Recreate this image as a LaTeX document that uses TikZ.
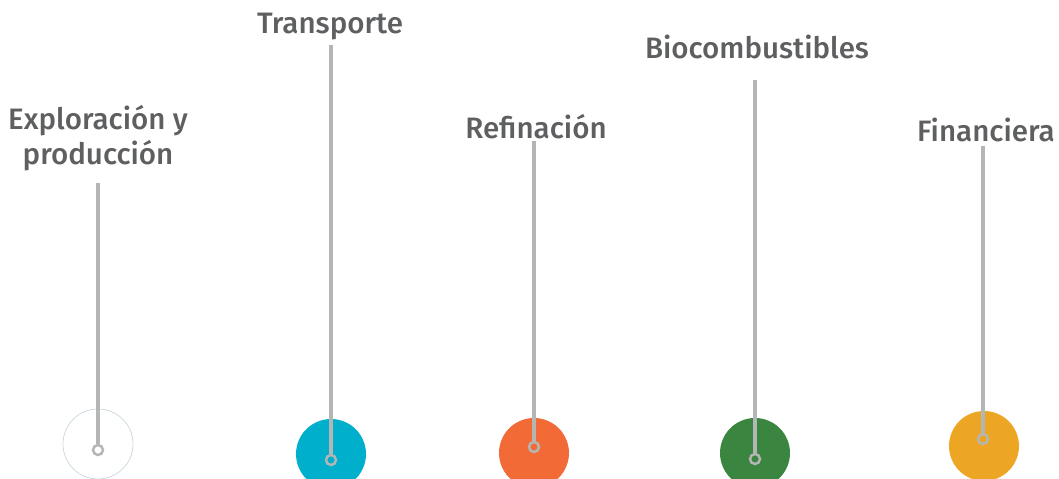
\documentclass[tikz,border=0pt]{standalone}
\usepackage{fontspec}
\setmainfont{Fira Sans}[UprightFont=* Medium]
\usetikzlibrary{positioning}
\definecolor{labelgray}{HTML}{5E5F61}
\definecolor{stemgray}{HTML}{B4B5B5}
\definecolor{rimgray}{HTML}{C9D6DE}
\definecolor{cyan}{HTML}{00AFCB}
\definecolor{orange}{HTML}{F26B37}
\definecolor{green}{HTML}{3A853F}
\definecolor{amber}{HTML}{EDA524}

\begin{document}
\begin{tikzpicture}[x=0.02cm,y=-0.02cm,
  label/.style={text=labelgray,font=\fontsize{16.8}{19.5}\selectfont,align=center,inner sep=0pt},
  disc/.style={circle,minimum size=1.4cm,inner sep=0pt},
  ring/.style={circle,draw=stemgray,line width=1.4pt,minimum size=0.2cm,inner sep=0pt},
  stem/.style={stemgray,line width=1.8pt}]
\useasboundingbox (0,0) rectangle (1059,479);
\clip (0,0) rectangle (1059,479);
% discs
\node[disc,draw=rimgray,line width=0.4pt] (d1) at (98,444) {};
\node[disc,fill=cyan] (d2) at (331,454) {};
\node[disc,fill=orange] (d3) at (534,453) {};
\node[disc,fill=green] (d4) at (755,453) {};
\node[disc,fill=amber] (d5) at (984,446) {};
% labels
\node[label] (l1) at (98,138) {Exploración y\\producción};
\node[label] (l2) at (330,27) {Transporte};
\node[label] (l3) at (536,127) {Refinación};
\node[label] (l4) at (757,47) {Biocombustibles};
\node[label] (l5) at (986,130) {Financiera};
% stem tops
\coordinate (t1) at (98,183);
\coordinate (t2) at (331,45);
\coordinate (t3) at (534,141);
\coordinate (t4) at (755,80);
\coordinate (t5) at (983,146);
% rings
\node[ring] (r1) at (98,450) {};
\node[ring] (r2) at (331,460) {};
\node[ring] (r3) at (534,447) {};
\node[ring] (r4) at (755,459) {};
\node[ring] (r5) at (983,439) {};
\draw[stem] (t1)--(r1); \draw[stem] (t2)--(r2); \draw[stem] (t3)--(r3);
\draw[stem] (t4)--(r4); \draw[stem] (t5)--(r5);
\end{tikzpicture}
\end{document}
